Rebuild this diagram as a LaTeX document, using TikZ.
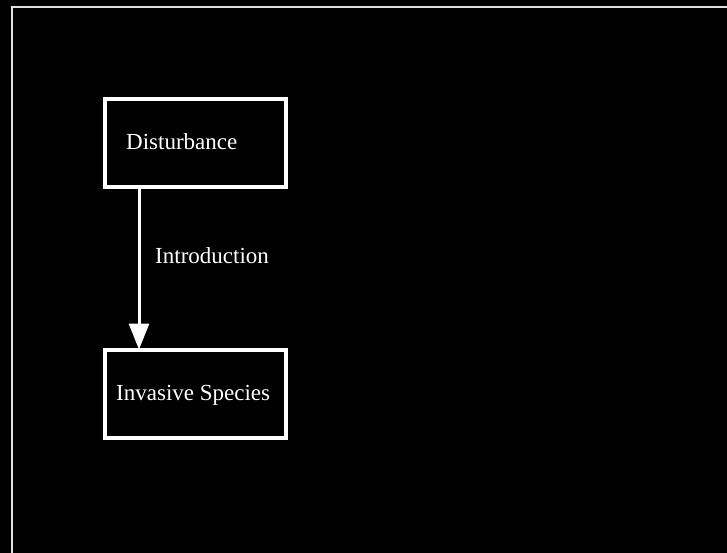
\documentclass[tikz,border=0pt]{standalone}
\usepackage{fontspec}
\setmainfont{Liberation Serif}
\usetikzlibrary{arrows.meta}

\begin{document}
\begin{tikzpicture}[x=1pt,y=-1pt,font=\fontsize{23}{27}\selectfont,
  box/.style={draw=white, line width=4pt, minimum width=181pt, minimum height=88pt, inner sep=0pt, outer sep=0pt},
  txt/.style={text=white, inner sep=0pt, anchor=base west},
  arr/.style={draw=white, line width=3pt, -{Triangle[width=20pt,length=26pt]}}]

\fill[black] (0,0) rectangle (727,553);
\useasboundingbox (0,0) rectangle (727,553);

% frame
\coordinate (fa) at (12,553);
\coordinate (fb) at (12,7);
\coordinate (fc) at (727,7);
\draw[white!88!black, line width=1.6pt] (fa) -- (fb) -- (fc);

\node[box] (dist) at (195.5,143) {};
\node[txt] (disttext) at (126,150) {Disturbance};

\node[box] (inv) at (195.5,393.5) {};
\node[txt] (invtext) at (116,400) {Invasive Species};

\draw[arr] ([xshift=34pt]dist.south west) -- ([xshift=34pt]inv.north west);
\node[txt] (intro) at (155,263) {Introduction};

\end{tikzpicture}
\end{document}
